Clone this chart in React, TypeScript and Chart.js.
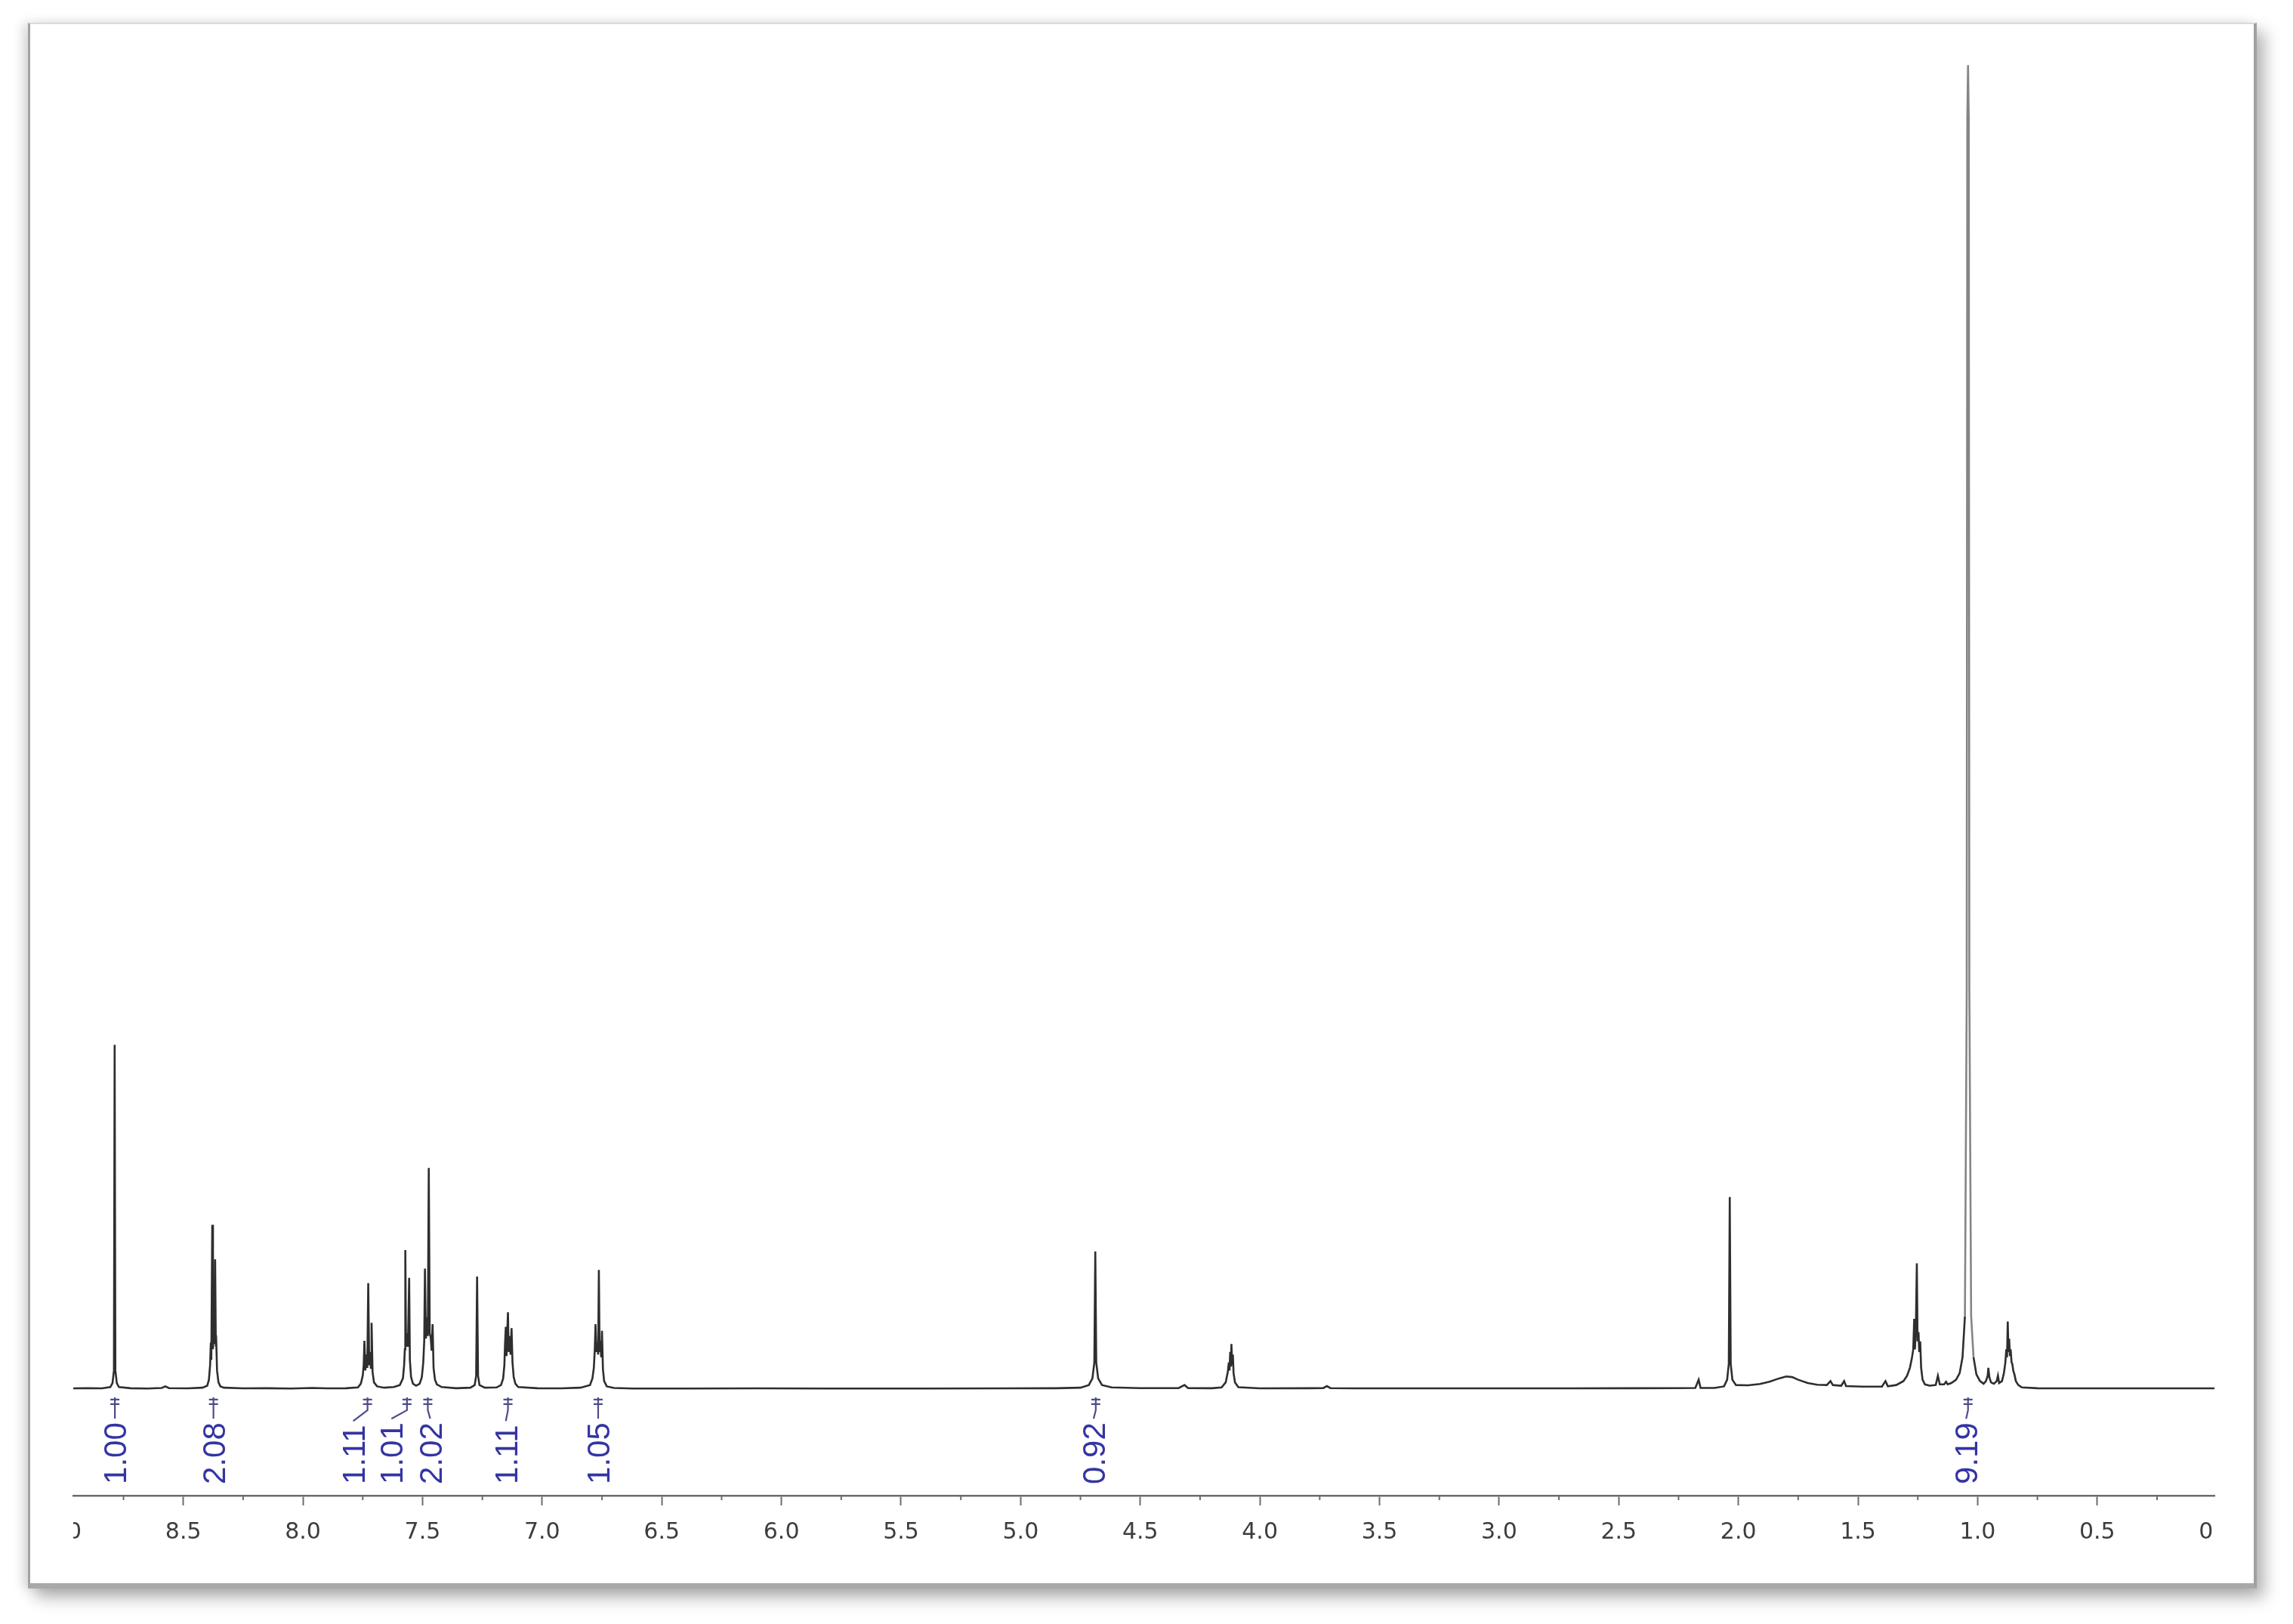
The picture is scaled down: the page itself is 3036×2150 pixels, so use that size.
import React, { useEffect, useRef } from 'react';
import { Chart, registerables } from 'chart.js';

Chart.register(...registerables);

// ---- spectrum points [chemical shift (ppm), relative intensity] ----
const peaksLowField: [number, number][] = [
  [8.96, 0.05], [8.9, 0.06], [8.84, 0.05], [8.805, 0.15], [8.796, 0.45], [8.79, 1.4], [8.787, 26.0],
  [8.784, 1.4], [8.778, 0.45], [8.769, 0.15], [8.72, 0.06], [8.65, 0.04], [8.59, 0.08], [8.575, 0.2],
  [8.56, 0.07], [8.48, 0.05], [8.42, 0.1], [8.4, 0.25], [8.393, 0.7], [8.388, 1.8], [8.385, 3.5],
  [8.383, 2.2], [8.379, 12.4], [8.376, 3.0], [8.373, 4.8], [8.37, 3.4], [8.367, 9.8], [8.364, 3.2],
  [8.362, 3.4], [8.359, 1.4], [8.353, 0.5], [8.345, 0.2], [8.33, 0.1], [8.25, 0.05], [8.15, 0.06],
  [8.05, 0.04], [7.96, 0.08], [7.9, 0.05], [7.82, 0.06], [7.77, 0.12], [7.758, 0.4], [7.75, 1.0],
  [7.746, 1.8], [7.743, 3.65], [7.739, 1.4], [7.735, 2.6], [7.731, 1.6], [7.727, 8.0], [7.723, 1.8],
  [7.719, 2.8], [7.716, 1.6], [7.713, 5.0], [7.709, 1.3], [7.703, 0.5], [7.69, 0.2], [7.66, 0.1],
  [7.62, 0.15],
];

const peaksAromatic: [number, number][] = [
  [7.595, 0.3], [7.582, 0.8], [7.577, 1.8], [7.574, 3.0], [7.572, 10.5], [7.569, 3.2], [7.565, 4.2],
  [7.561, 3.2], [7.556, 8.4], [7.553, 2.2], [7.548, 0.9], [7.54, 0.4], [7.527, 0.25], [7.512, 0.4],
  [7.503, 0.9], [7.497, 2.0], [7.493, 3.6], [7.49, 9.1], [7.486, 3.8], [7.482, 5.4], [7.478, 4.0],
  [7.474, 16.7], [7.47, 4.2], [7.466, 3.9], [7.462, 2.9], [7.458, 4.9], [7.454, 1.6], [7.448, 0.7],
  [7.44, 0.35], [7.42, 0.15], [7.36, 0.06], [7.3, 0.1], [7.282, 0.3], [7.276, 1.0], [7.272, 8.5],
  [7.268, 1.0], [7.262, 0.3], [7.24, 0.1], [7.19, 0.12], [7.172, 0.3], [7.163, 0.8], [7.158, 1.8],
  [7.155, 3.5], [7.152, 4.7], [7.149, 2.5], [7.146, 4.2], [7.143, 5.8], [7.14, 2.8], [7.136, 4.0],
  [7.132, 2.6], [7.128, 4.6], [7.124, 2.0], [7.119, 0.9], [7.112, 0.4], [7.1, 0.15], [7.02, 0.06],
  [6.92, 0.05], [6.84, 0.1], [6.8, 0.3], [6.79, 0.8], [6.784, 1.6], [6.78, 3.0], [6.777, 4.9],
  [6.773, 2.8], [6.769, 3.5], [6.766, 2.6], [6.763, 9.0], [6.76, 2.8], [6.756, 3.2], [6.753, 2.4],
  [6.75, 4.4], [6.746, 1.5], [6.741, 0.6], [6.73, 0.2], [6.7, 0.08], [6.62, 0.04],
];

const peaksMidField: [number, number][] = [
  [6.4, 0.04], [6.1, 0.05], [5.8, 0.04], [5.4, 0.04], [5.05, 0.05], [4.85, 0.06], [4.75, 0.1],
  [4.715, 0.3], [4.7, 0.8], [4.692, 2.0], [4.688, 10.4], [4.684, 2.0], [4.676, 0.8], [4.66, 0.3],
  [4.62, 0.12], [4.5, 0.07], [4.34, 0.07], [4.315, 0.3], [4.3, 0.07], [4.2, 0.06], [4.16, 0.12],
  [4.143, 0.5], [4.134, 1.3], [4.13, 2.0], [4.127, 1.4], [4.124, 2.8], [4.121, 1.7], [4.119, 3.4],
  [4.116, 1.8], [4.113, 2.6], [4.11, 1.2], [4.104, 0.5], [4.09, 0.14], [4.0, 0.05], [3.8, 0.06],
  [3.735, 0.07], [3.72, 0.22], [3.705, 0.07], [3.6, 0.05],
];

const peaksAliphatic: [number, number][] = [
  [3.3, 0.05], [3.0, 0.05], [2.7, 0.05], [2.45, 0.06], [2.25, 0.07], [2.18, 0.08], [2.166, 0.7],
  [2.158, 0.08], [2.1, 0.08], [2.06, 0.2], [2.047, 0.7], [2.04, 1.9], [2.036, 14.5], [2.032, 1.9],
  [2.025, 0.7], [2.01, 0.3], [1.96, 0.28], [1.91, 0.38], [1.87, 0.55], [1.83, 0.8], [1.8, 0.95],
  [1.775, 0.9], [1.75, 0.7], [1.71, 0.45], [1.67, 0.32], [1.63, 0.3], [1.615, 0.6], [1.605, 0.3],
  [1.57, 0.25], [1.558, 0.6], [1.55, 0.22], [1.48, 0.18], [1.4, 0.18], [1.385, 0.6], [1.375, 0.2],
  [1.34, 0.3], [1.31, 0.6], [1.295, 1.0], [1.283, 1.6], [1.275, 2.3], [1.269, 3.0], [1.265, 5.3],
  [1.262, 3.0], [1.258, 4.6], [1.254, 9.5], [1.251, 3.6], [1.247, 4.3], [1.244, 2.8], [1.24, 3.6],
  [1.236, 1.6], [1.23, 0.7], [1.22, 0.35], [1.2, 0.25], [1.175, 0.3], [1.166, 1.0], [1.158, 0.35],
  [1.14, 0.35], [1.132, 0.55], [1.125, 0.35],
];

const peaksHighField: [number, number][] = [
  [1.11, 0.45], [1.09, 0.7], [1.075, 1.2], [1.063, 2.4], [1.053, 5.5], [1.0455, 30], [1.043, 96],
  [1.04, 100], [1.037, 96], [1.0345, 30], [1.027, 5.5], [1.017, 2.4], [1.005, 1.1], [0.99, 0.6],
  [0.975, 0.4], [0.965, 0.6], [0.958, 1.0], [0.955, 1.6], [0.951, 0.9], [0.944, 0.5], [0.932, 0.4],
  [0.92, 0.6], [0.915, 1.0], [0.91, 0.45], [0.898, 0.6], [0.89, 1.2], [0.884, 2.0], [0.88, 3.0],
  [0.877, 2.4], [0.874, 5.1], [0.871, 2.8], [0.868, 3.8], [0.865, 2.5], [0.862, 3.0], [0.858, 2.0],
  [0.855, 1.9], [0.851, 1.4], [0.846, 1.1], [0.84, 0.6], [0.83, 0.3], [0.815, 0.12], [0.75, 0.06],
  [0.6, 0.05], [0.4, 0.05], [0.2, 0.05], [0.01, 0.05],
];

// ---- integrals ----
const integralValues = ['1.00', '2.08', '1.11', '1.01', '2.02', '1.11', '1.05', '0.92', '9.19'];
const integralLabelPpm = [8.786, 8.374, 7.79, 7.63, 7.468, 7.152, 6.766, 4.695, 1.048];
const integralPeakPpm = [8.786, 8.374, 7.73, 7.565, 7.478, 7.143, 6.766, 4.686, 1.04];

// ---- axis ----
const majorTickPpm = [9.0, 8.5, 8.0, 7.5, 7.0, 6.5, 6.0, 5.5, 5.0, 4.5, 4.0, 3.5, 3.0, 2.5, 2.0, 1.5, 1.0, 0.5, 0.0];
const majorTickLabels = ['9.0', '8.5', '8.0', '7.5', '7.0', '6.5', '6.0', '5.5', '5.0', '4.5', '4.0', '3.5', '3.0', '2.5', '2.0', '1.5', '1.0', '0.5', '0.0'];
const minorTickPpm = [8.75, 8.25, 7.75, 7.25, 6.75, 6.25, 5.75, 5.25, 4.75, 4.25, 3.75, 3.25, 2.75, 2.25, 1.75, 1.25, 0.75, 0.25];

const X_MIN = 0.01;
const X_MAX = 8.96;
const Y_MIN = -8.05;
const Y_MAX = 101.5;

const TICK_FONT = '30px "DejaVu Sans"';
const TICK_COLOR = '#3d3d3d';
const AXIS_COLOR = '#6c6c6c';
const MAJOR_TICK_LEN = 13;
const TICK_PAD = 18;
const INTEGRAL_COLOR = '#3434a4';

const nmrDecor = {
  id: 'nmrDecor',
  afterDraw(chart: any) {
    const { ctx, chartArea, scales } = chart;
    const xs = scales.x;
    const ys = scales.y;
    const base = ys.getPixelForValue(0);
    ctx.save();

    // minor ticks
    ctx.strokeStyle = AXIS_COLOR;
    ctx.lineWidth = 2;
    minorTickPpm.forEach((v) => {
      if (v < X_MIN || v > X_MAX) return;
      const px = xs.getPixelForValue(v);
      ctx.beginPath();
      ctx.moveTo(px, chartArea.bottom);
      ctx.lineTo(px, chartArea.bottom + 6);
      ctx.stroke();
    });

    // edge labels, clipped at the axis ends
    ctx.save();
    ctx.beginPath();
    ctx.rect(chartArea.left, chartArea.bottom, chartArea.right - chartArea.left, 120);
    ctx.clip();
    ctx.font = TICK_FONT;
    ctx.fillStyle = TICK_COLOR;
    ctx.textAlign = 'center';
    ctx.textBaseline = 'middle';
    const labelY = chartArea.bottom + MAJOR_TICK_LEN + TICK_PAD + 18;
    majorTickPpm.forEach((v, i) => {
      if (v > X_MAX || v < X_MIN) {
        ctx.fillText(majorTickLabels[i], xs.getPixelForValue(v), labelY);
      }
    });
    ctx.restore();

    // integral labels
    ctx.font = '42px "Liberation Sans", Arial, sans-serif';
    integralValues.forEach((txt, i) => {
      const lx = xs.getPixelForValue(integralLabelPpm[i]);
      const px = xs.getPixelForValue(integralPeakPpm[i]);
      const textBottom = base + 126;
      const w = ctx.measureText(txt).width;
      ctx.save();
      ctx.translate(lx, textBottom);
      ctx.rotate(-Math.PI / 2);
      ctx.fillStyle = INTEGRAL_COLOR;
      ctx.textAlign = 'left';
      ctx.textBaseline = 'alphabetic';
      ctx.fillText(txt, 0, 15);
      ctx.restore();

      const textTop = textBottom - w - 5;
      ctx.strokeStyle = '#4c4c8c';
      ctx.lineWidth = 2.2;
      ctx.beginPath();
      ctx.moveTo(lx, textTop);
      ctx.lineTo(px, base + 28);
      ctx.lineTo(px, base + 11);
      ctx.stroke();
      ctx.beginPath();
      ctx.moveTo(px - 6, base + 14);
      ctx.lineTo(px + 6, base + 14);
      ctx.moveTo(px - 6, base + 20);
      ctx.lineTo(px + 6, base + 20);
      ctx.stroke();
    });

    ctx.restore();
  },
};

export default function App() {
  const canvasRef = useRef<HTMLCanvasElement | null>(null);

  useEffect(() => {
    const canvas = canvasRef.current;
    if (!canvas) return;
    const points = [...peaksLowField, ...peaksAromatic, ...peaksMidField, ...peaksAliphatic, ...peaksHighField].map(
      ([x, y]) => ({ x, y })
    );
    const chart = new Chart(canvas, {
      type: 'line',
      data: {
        datasets: [
          {
            data: points,
            borderColor: '#2e2e2e',
            borderWidth: 2.6,
            pointRadius: 0,
            tension: 0,
            fill: false,
            segment: {
              borderColor: (c: any) => {
                const inTallPeak = c.p0.parsed.x < 1.06 && c.p0.parsed.x > 1.02;
                return inTallPeak && Math.max(c.p0.parsed.y, c.p1.parsed.y) > 5 ? '#858585' : undefined;
              },
            },
          },
        ],
      },
      options: {
        responsive: false,
        animation: false,
        events: [],
        layout: { padding: { left: 97, right: 104, top: 60, bottom: 90 } },
        plugins: { legend: { display: false }, tooltip: { enabled: false } },
        scales: {
          x: {
            type: 'linear',
            reverse: true,
            min: X_MIN,
            max: X_MAX,
            afterFit: (scale: any) => {
              scale.height = 80;
            },
            afterBuildTicks: (scale: any) => {
              scale.ticks = majorTickPpm.filter((v) => v >= X_MIN && v <= X_MAX).map((v) => ({ value: v }));
            },
            ticks: {
              autoSkip: false,
              maxRotation: 0,
              minRotation: 0,
              padding: TICK_PAD,
              color: TICK_COLOR,
              font: { family: '"DejaVu Sans"', size: 30 },
              callback: (value: any) => {
                const idx = majorTickPpm.findIndex((v) => Math.abs(v - Number(value)) < 1e-6);
                return idx >= 0 ? majorTickLabels[idx] : '';
              },
            },
            grid: {
              display: true,
              drawOnChartArea: false,
              drawTicks: true,
              tickLength: MAJOR_TICK_LEN,
              tickColor: AXIS_COLOR,
              tickWidth: 2,
            },
            border: { display: true, color: AXIS_COLOR, width: 2.5 },
          },
          y: {
            type: 'linear',
            display: false,
            min: Y_MIN,
            max: Y_MAX,
          },
        },
      },
      plugins: [nmrDecor],
    });
    return () => chart.destroy();
  }, []);

  return (
    <div
      style={{
        position: 'absolute',
        left: 0,
        top: 0,
        width: 3036,
        height: 2150,
        background: '#ffffff',
        overflow: 'hidden',
      }}
    >
      <div
        style={{
          position: 'absolute',
          left: 37,
          top: 30,
          width: 2951,
          height: 2073,
          boxSizing: 'border-box',
          background: '#ffffff',
          borderTop: '2px solid #dadada',
          borderLeft: '3px solid #a2a2a2',
          borderRight: '4px solid #a0a0a0',
          borderBottom: '7px solid #a8a8a8',
          boxShadow: '10px 12px 20px rgba(0,0,0,0.30), -8px 0px 14px rgba(0,0,0,0.12)',
        }}
      />
      <canvas
        ref={canvasRef}
        width={3036}
        height={2150}
        style={{ position: 'absolute', left: 0, top: 0, width: 3036, height: 2150 }}
      />
    </div>
  );
}
